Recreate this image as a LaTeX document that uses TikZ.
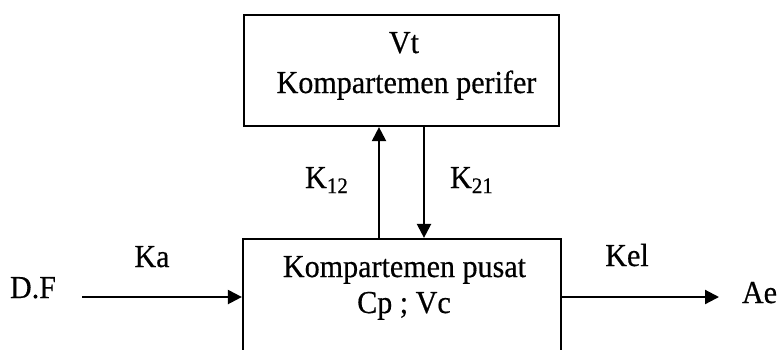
\documentclass[tikz,border=0pt]{standalone}
\usepackage{fontspec}
\setmainfont{Liberation Serif}[FakeBold=0.5,FakeStretch=0.94]
\usetikzlibrary{arrows.meta}
\begin{document}
\begin{tikzpicture}[x=0.5bp,y=-0.5bp,
  box/.style={draw, line width=1.1bp, inner sep=0pt},
  txt/.style={anchor=base, inner sep=0pt, font=\fontsize{16bp}{19bp}\selectfont},
  arr/.style={line width=1.1bp, -{Triangle[length=7bp,width=7bp]}}]
\useasboundingbox (0,0) rectangle (779,349);
\clip (0,0) rectangle (779,349);
% boxes
\node[box, minimum width=157.5bp, minimum height=55.5bp] (perifer) at (401.5,70.5) {};
\node[box, minimum width=159bp, minimum height=80.5bp] (pusat) at (402,319.5) {};
% texts
\node[txt] (vt) at (404,53) {Vt};
\node[txt] (kper) at (406.5,93) {Kompartemen perifer};
\node[txt] (kpus) at (404.5,277) {Kompartemen pusat};
\node[txt] (cpvc) at (404,313) {Cp ; Vc};
\node[txt] (k12) at (327,188) {K\textsubscript{12}};
\node[txt] (k21) at (472,188) {K\textsubscript{21}};
\node[txt] (ka) at (152,267) {Ka};
\node[txt] (kel) at (627,266) {Kel};
\node[txt] (df) at (33,298) {D.F};
\node[txt] (ae) at (759.5,303) {Ae};
% connectors
\coordinate (up) at (379,0);
\coordinate (dn) at (424,0);
\coordinate (dfs) at (82,297);
\coordinate (aee) at (719,297);
\draw[arr] (pusat.north -| up) -- (perifer.south -| up);
\draw[arr] (perifer.south -| dn) -- (pusat.north -| dn);
\draw[arr] (dfs) -- (dfs -| pusat.west);
\draw[arr] (aee -| pusat.east) -- (aee);
\end{tikzpicture}
\end{document}
